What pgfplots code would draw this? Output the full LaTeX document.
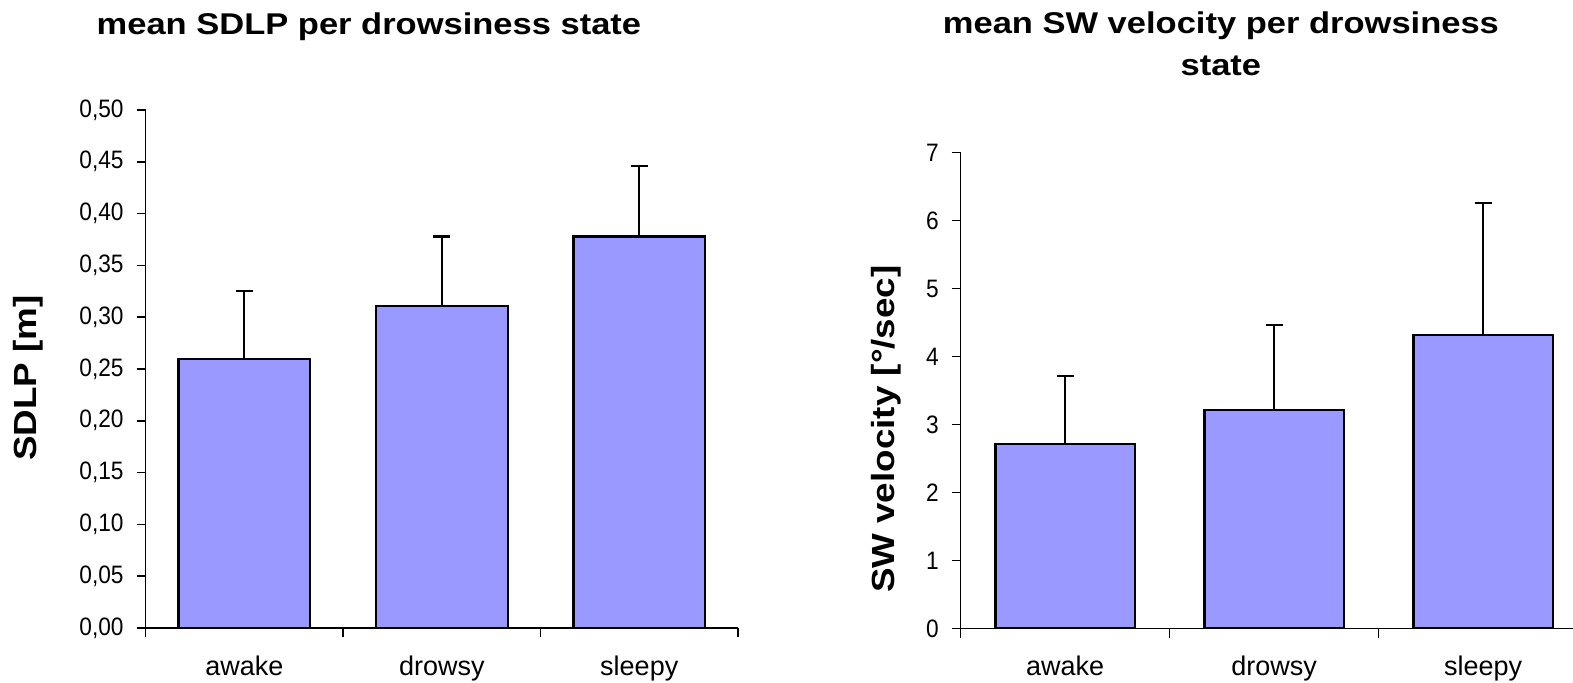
\documentclass[border=0pt]{standalone}
\usepackage{pgfplots}
\usepackage{pgfplotstable}
\pgfplotsset{compat=1.18}
\usepackage{fontspec}
\setmainfont{Liberation Sans}
\newfontfamily\headfont[FakeStretch=1.15]{Liberation Sans}
\newfontfamily\numfont[FakeStretch=0.9]{Liberation Sans}
\definecolor{barfill}{RGB}{153,153,255}

% mean and standard deviation per drowsiness state
\pgfplotstableread{
x mean sd
0 0.260 0.065
1 0.311 0.067
2 0.378 0.068
}\sdlp

\pgfplotstableread{
x mean sd
0 2.71 1.00
1 3.22 1.25
2 4.32 1.94
}\swvel

\pgfplotsset{
  statebars/.style={
    scale only axis,
    axis x line*=bottom, axis y line*=left,
    axis line style={black, line width=0.75pt},
    xmin=-0.5, xmax=2.5, ymin=0,
    xtick={0,1,2},
    xticklabels={awake,drowsy,sleepy},
    major x tick style={draw=none},
    minor xtick={-0.5,0.5,1.5,2.5},
    tick align=outside,
    major tick length=4.5pt, minor tick length=4.5pt,
    tick style={black, line width=0.75pt},
    xticklabel style={font=\fontsize{13.5}{16}\selectfont, anchor=base, yshift=-19pt},
    yticklabel style={font=\numfont\fontsize{12.6}{15}\selectfont, xshift=-3pt},
    /pgf/number format/assume math mode=true,
    ylabel style={font=\headfont\bfseries\fontsize{16}{19}\selectfont, anchor=center},
    title style={font=\headfont\bfseries\fontsize{15}{21}\selectfont, inner sep=0pt, align=center},
    ybar, bar width=0.667,
  },
  statebar/.style={
    fill=barfill, draw=black, line width=1.1pt,
    error bars/.cd, y dir=plus, y explicit,
    error bar style={black, line width=1.1pt},
    error mark options={rotate=90, black, line width=1.1pt, mark size=4.25pt},
  },
}

\begin{document}
\begin{tikzpicture}
\begin{axis}[statebars,
  at={(72.8pt,27pt)}, anchor=south west,
  width=296.2pt, height=259pt,
  ymax=0.5, ytick={0,0.05,...,0.5},
  yticklabel style={/pgf/number format/.cd, fixed, fixed zerofill, precision=2, use comma},
  ylabel={SDLP [m]},
  ylabel style={at={(rel axis cs:-0.1977,0.4826)}},
  title={mean SDLP per drowsiness state},
  title style={at={(rel axis cs:0.377,1)}, anchor=base, yshift=32pt},
]
\addplot[statebar] table[x=x, y=mean, y error=sd]{\sdlp};
\end{axis}

\begin{axis}[statebars,
  at={(480.35pt,26.75pt)}, anchor=south west,
  width=313.5pt, height=237.9pt,
  ymax=7, ytick={0,1,...,7},
  ylabel={SW velocity [°/sec]},
  ylabel style={at={(rel axis cs:-0.119,0.419)}},
  title={mean SW velocity per drowsiness\\state},
  title style={at={(rel axis cs:0.415,1)}, anchor=south, yshift=32.35pt},
]
\addplot[statebar] table[x=x, y=mean, y error=sd]{\swvel};
\end{axis}
\pgfresetboundingbox
\useasboundingbox (0,0) rectangle (786.5pt,341pt);
\end{tikzpicture}
\end{document}
